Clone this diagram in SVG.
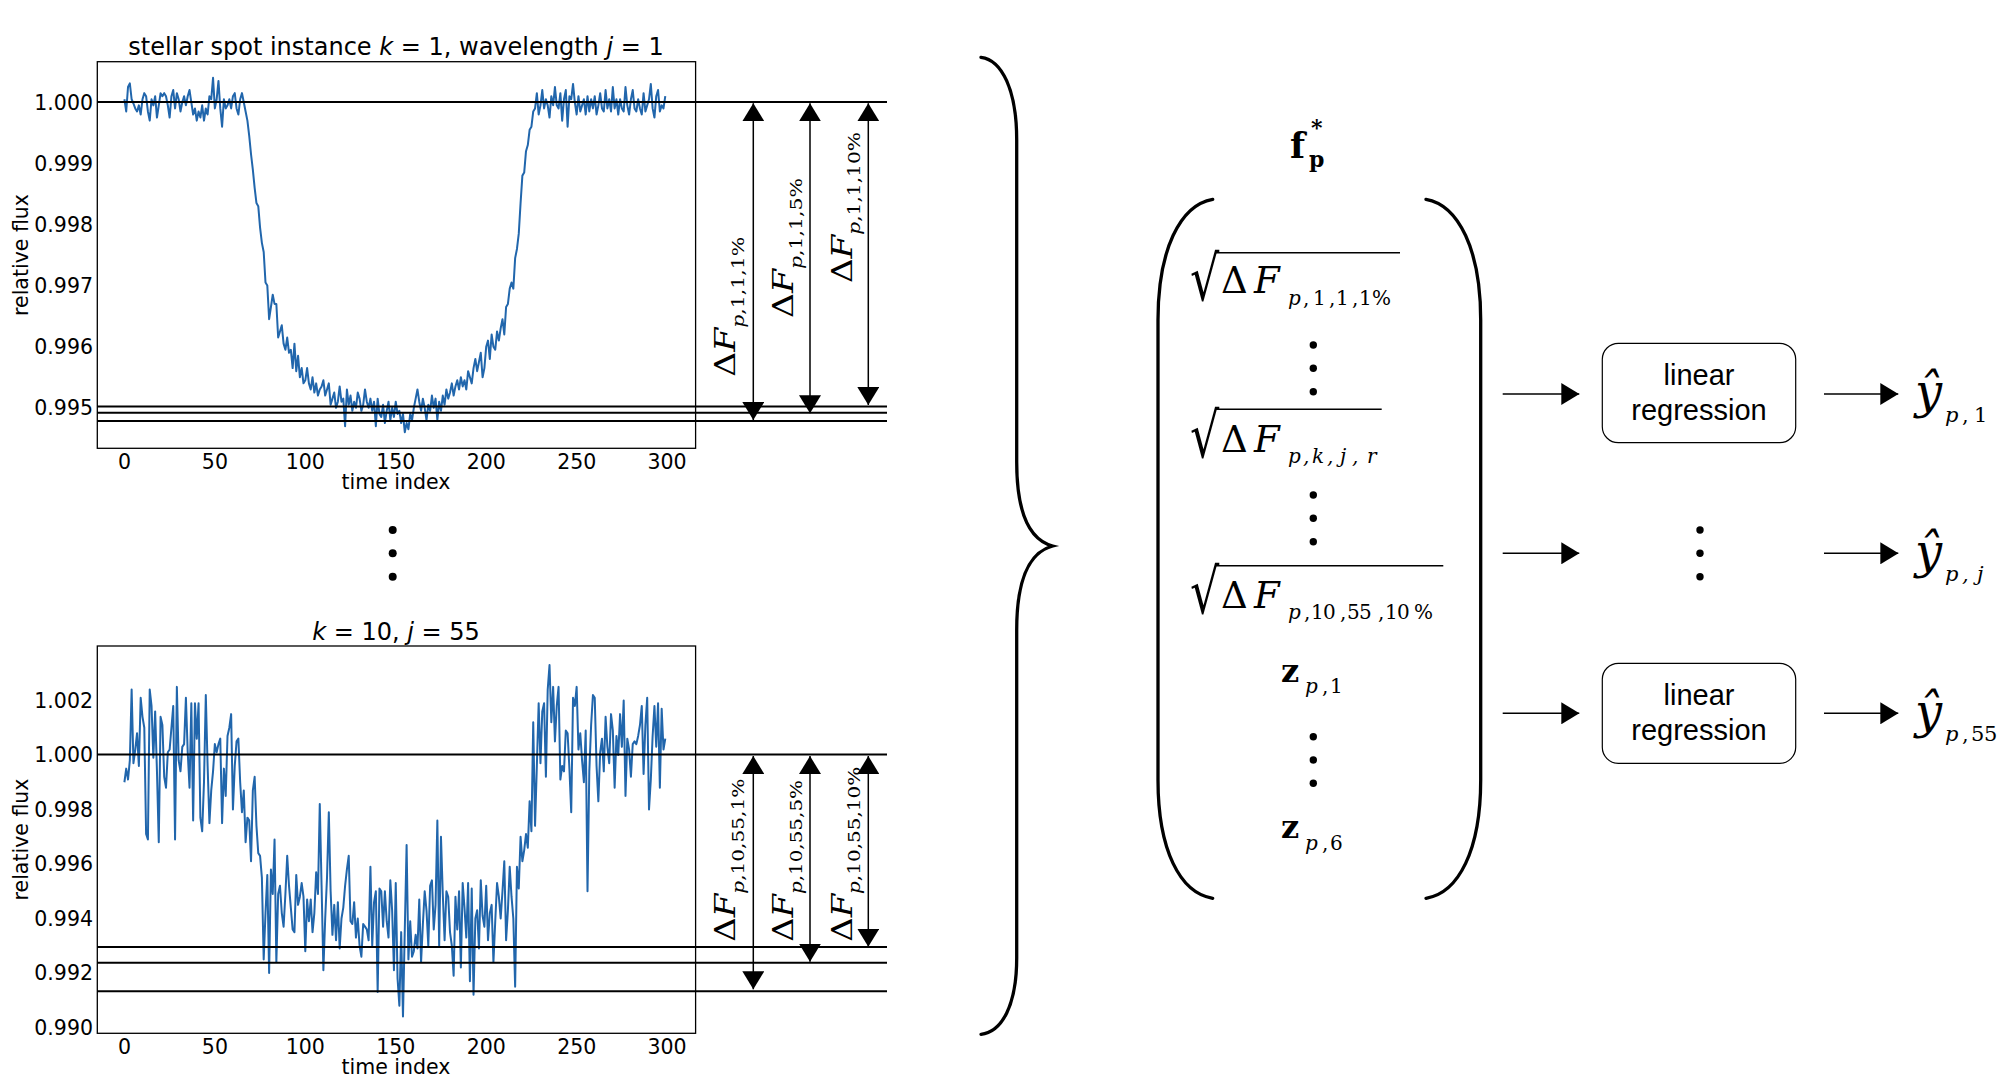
<svg xmlns="http://www.w3.org/2000/svg" width="2000" height="1088" viewBox="0 0 2000 1088">
<style>
.tick{font-family:"DejaVu Sans",sans-serif;font-size:20.5px;fill:#000}
.tl{font-family:"DejaVu Sans",sans-serif;font-size:24px;fill:#000}
.ser{font-family:"DejaVu Serif",serif;fill:#000}
.it{font-style:italic}
.sans{font-family:"Liberation Sans",Arial,sans-serif;font-size:29px;fill:#000}
.frame{fill:none;stroke:#000;stroke-width:1.3}
.hl{stroke:#000;stroke-width:2}
.curve{fill:none;stroke:#2166ac;stroke-width:2;stroke-linejoin:round}
.arr{stroke:#000;stroke-width:1.5;fill:none}
.brk{fill:none;stroke:#000;stroke-width:3.3;stroke-linecap:round}
.box{fill:#fff;stroke:#000;stroke-width:1.2}
.bar{stroke:#000;stroke-width:1.6}
</style>
<defs>
<marker id="ah" markerUnits="userSpaceOnUse" markerWidth="18" markerHeight="22" refX="18" refY="11" orient="auto-start-reverse" viewBox="0 0 18 22">
<path d="M0,0 L18,11 L0,22 Z" fill="#000"/>
</marker>
</defs>
<rect width="2000" height="1088" fill="#fff"/>

<g id="plot-top">
<text class="tl" x="396" y="55" text-anchor="middle">stellar spot instance <tspan class="it">k</tspan> = 1, wavelength <tspan class="it">j</tspan> = 1</text>
<path class="curve" transform="translate(124.4,102.3) scale(1.809,61.1)" vector-effect="non-scaling-stroke" d="M0 -.05L1 .15 2 -.25 3 -.31 4 -.05 5 .02 6 .1 7 .15 8 .05 9 .2 10 -.05 11 -.15 12 -.1 13 .15 14 .3 15 -.05 16 .05 17 -.1 18 .25 19 .05 20 -.15 21 -.1 22 -.15 23 -.1 24 .05 25 .25 26 -.1 27 -.2 28 .1 29 -.15 30 -.05 31 .15 32 0 33 -.1 34 .05 35 -.1 36 -.2 37 0 38 .2 39 .1 40 .3 41 .15 42 .25 43 .05 44 .3 45 .1 46 .2 47 -.1 48 -.05 49 -.4 50 .1 51 -.05 52 -.35 53 .1 54 .4 55 -.05 56 .1 57 .05 58 -.05 59 .1 60 -.1 61 -.15 62 .1 63 .2 64 -.05 65 -.15 66 0 67 .15 68 .3 69 .55 70 .85 71 1.1 72 1.4 73 1.65 74 1.7 75 2.05 76 2.3 77 2.45 78 2.95 79 3 80 3.55 81 3.35 82 3.15 83 3.3 84 3.3 85 3.85 86 3.75 87 3.65 88 3.95 89 4.05 90 3.85 91 4.1 92 4.05 93 4.35 94 3.95 95 4.4 96 4.15 97 4.5 98 4.35 99 4.6 100 4.55 101 4.35 102 4.6 103 4.7 104 4.5 105 4.75 106 4.6 107 4.8 108 4.7 109 4.65 110 4.55 111 4.8 112 4.7 113 4.6 114 4.95 115 4.85 116 4.75 117 5 118 4.9 119 4.65 120 4.9 121 4.85 122 5.3 123 4.7 124 4.95 125 4.8 126 5.05 127 4.9 128 5 129 4.75 130 4.85 131 5.05 132 4.95 133 4.7 134 4.9 135 5 136 4.85 137 5.05 138 4.9 139 5.3 140 4.85 141 5.1 142 5.15 143 4.95 144 5.25 145 5.05 146 4.9 147 5.2 148 5 149 5.15 150 4.9 151 5.1 152 5.05 153 5.25 154 5.1 155 5.4 156 5.25 157 5.35 158 5.1 159 5.2 160 5 161 4.85 162 4.7 163 4.9 164 5.05 165 4.85 166 5 167 5.2 168 4.95 169 5.05 170 4.8 171 5 172 4.85 173 5.2 174 4.9 175 5.05 176 4.8 177 4.95 178 4.7 179 4.85 180 4.75 181 4.6 182 4.8 183 4.65 184 4.55 185 4.7 186 4.5 187 4.65 188 4.55 189 4.7 190 4.4 191 4.5 192 4.6 193 4.35 194 4.2 195 4.4 196 4.25 197 4.1 198 4.5 199 4.35 200 4 201 3.9 202 4.2 203 3.8 204 4 205 4.05 206 3.75 207 3.9 208 3.7 209 3.55 210 3.8 211 3.35 212 3.3 213 3.05 214 2.95 215 3.05 216 2.55 217 2.4 218 2.15 219 1.65 220 1.2 221 1.15 222 .8 223 .7 224 .45 225 .4 226 .15 227 .1 228 -.15 229 .2 230 .05 231 -.2 232 .1 233 -.05 234 .05 235 .25 236 -.1 237 .05 238 -.25 239 .05 240 .1 241 -.15 242 .3 243 -.05 244 -.2 245 .4 246 -.1 247 -.05 248 -.3 249 0 250 .2 251 -.1 252 .15 253 .05 254 -.05 255 .2 256 -.1 257 .15 258 -.05 259 .1 260 -.1 261 .2 262 .05 263 -.15 264 .1 265 .15 266 -.2 267 .1 268 -.05 269 .15 270 -.25 271 .1 272 -.05 273 .2 274 -.05 275 .1 276 .15 277 -.25 278 .05 279 .2 280 -.05 281 -.2 282 .1 283 .15 284 -.05 285 .1 286 .2 287 -.15 288 .15 289 .05 290 -.05 291 -.3 292 .1 293 .25 294 -.1 295 -.2 296 .15 297 .05 298 .1 299 -.1"/>
<rect class="frame" x="97.3" y="61.7" width="598.3" height="386.6"/>
<g class="tick" text-anchor="end">
<text x="93" y="109.6">1.000</text>
<text x="93" y="170.7">0.999</text>
<text x="93" y="231.8">0.998</text>
<text x="93" y="292.9">0.997</text>
<text x="93" y="354">0.996</text>
<text x="93" y="415.1">0.995</text>
</g>
<g class="tick" text-anchor="middle">
<text x="124.4" y="469">0</text>
<text x="214.9" y="469">50</text>
<text x="305.3" y="469">100</text>
<text x="395.8" y="469">150</text>
<text x="486.2" y="469">200</text>
<text x="576.7" y="469">250</text>
<text x="667.1" y="469">300</text>
<text x="396" y="489">time index</text>
<text transform="translate(28,255) rotate(-90)">relative flux</text>
</g>
<line class="hl" x1="97" y1="102" x2="887" y2="102"/>
<line class="hl" x1="97" y1="406.5" x2="887" y2="406.5"/>
<line class="hl" x1="97" y1="412.8" x2="887" y2="412.8"/>
<line class="hl" x1="97" y1="421" x2="887" y2="421"/>
</g>

<g id="plot-top-arrows">
<line class="arr" x1="753.3" y1="103.3" x2="753.3" y2="420" marker-start="url(#ah)" marker-end="url(#ah)"/>
<line class="arr" x1="810" y1="103.3" x2="810" y2="413.3" marker-start="url(#ah)" marker-end="url(#ah)"/>
<line class="arr" x1="868.3" y1="103.3" x2="868.3" y2="405" marker-start="url(#ah)" marker-end="url(#ah)"/>
<text class="ser" font-size="27" transform="translate(735,376.7) rotate(-90)" textLength="140" lengthAdjust="spacingAndGlyphs">Δ<tspan class="it">F</tspan><tspan class="it" font-size="16" dy="8.5">p</tspan><tspan font-size="16">,1,1,1%</tspan></text>
<text class="ser" font-size="27" transform="translate(793.3,318) rotate(-90)" textLength="140" lengthAdjust="spacingAndGlyphs">Δ<tspan class="it">F</tspan><tspan class="it" font-size="16" dy="8.5">p</tspan><tspan font-size="16">,1,1,5%</tspan></text>
<text class="ser" font-size="27" transform="translate(851.7,283) rotate(-90)" textLength="151" lengthAdjust="spacingAndGlyphs">Δ<tspan class="it">F</tspan><tspan class="it" font-size="16" dy="8.5">p</tspan><tspan font-size="16">,1,1,10%</tspan></text>
</g>

<g id="ellipsis-plots">
<circle cx="392.7" cy="530" r="4"/>
<circle cx="392.7" cy="553.3" r="4"/>
<circle cx="392.7" cy="576.7" r="4"/>
</g>

<g id="plot-bottom">
<text class="tl" x="396" y="640" text-anchor="middle"><tspan class="it">k</tspan> = 10, <tspan class="it">j</tspan> = 55</text>
<path class="curve" transform="translate(124.4,755) scale(1.809,27.25)" vector-effect="non-scaling-stroke" d="M0 1L1 .5 2 .9 3 .2 4 -2.4 5 .3 6 -.2 7 -.8 8 .4 9 -2.1 10 -1.4 11 -1 12 2.9 13 3.1 14 -2.4 15 -1.8 16 .1 17 -1.6 18 .6 19 3.2 20 -1.4 21 -1.1 22 .8 23 1.2 24 -.1 25 -.2 26 -1 27 -1.8 28 3.1 29 -2.5 30 .2 31 .6 32 -.3 33 -.4 34 -2.1 35 -.1 36 1.2 37 -1.9 38 2.4 39 -1.9 40 -.6 41 -1.9 42 2.3 43 2.8 44 1 45 -2.2 46 .4 47 2.5 48 1.3 49 .6 50 -.4 51 -.1 52 -.4 53 -.6 54 2.5 55 .5 56 1.5 57 -.7 58 -1 59 -1.5 60 2 61 .4 62 -.5 63 -.6 64 1 65 2.1 66 1.3 67 3.2 68 2.3 69 2.4 70 3.9 71 1.3 72 .8 73 2.6 74 3.6 75 3.7 76 4.5 77 7.5 78 5.8 79 4.4 80 8 81 4.2 82 5.1 83 3.1 84 7.6 85 5.1 86 4.8 87 5.8 88 6.3 89 5.1 90 3.7 91 4.8 92 5.6 93 6.4 94 6.5 95 4.4 96 5.5 97 5.2 98 4.7 99 5.2 100 7.2 101 5.3 102 6.1 103 5.3 104 6.5 105 5.8 106 4.3 107 5.1 108 1.8 109 4.8 110 7.9 111 6 112 4.5 113 2.1 114 5 115 6.6 116 5.5 117 6.8 118 5.4 119 7.1 120 6 121 5.6 122 4.8 123 4.2 124 3.7 125 6.1 126 6.2 127 5.4 128 6.7 129 6 130 7 131 7.4 132 6.2 133 6.3 134 6.4 135 6.8 136 4.1 137 7 138 5.4 139 5 140 8.7 141 4.9 142 5 143 6.3 144 5 145 6.1 146 6.7 147 4.6 148 5.7 149 7.9 150 4.7 151 8.2 152 9.2 153 6.5 154 9.6 155 6.4 156 3.3 157 7.5 158 6.1 159 7.4 160 7.2 161 6.6 162 7.1 163 5.3 164 7.6 165 6.2 166 5 167 5.7 168 7 169 4.8 170 4.6 171 6.4 172 5.5 173 2.4 174 7 175 3 176 5.1 177 6.8 178 5 179 5.2 180 6.5 181 7 182 8.1 183 5.2 184 6.4 185 5 186 7.8 187 4.7 188 5.6 189 6.7 190 4.7 191 8.3 192 4.9 193 8.8 194 6 195 5.7 196 7.1 197 4.6 198 5.9 199 6.3 200 4.8 201 6.8 202 5.8 203 5.5 204 7.6 205 6.1 206 4.7 207 5.2 208 6 209 5 210 3.9 211 6.8 212 5.7 213 4.1 214 5.2 215 6 216 8.5 217 4.1 218 4.9 219 3 220 3.9 221 3.5 222 2.9 223 3.4 224 1.7 225 2.8 226 -1.2 227 2.6 228 .4 229 -1.9 230 .3 231 -1.6 232 -1.9 233 .8 234 -2.4 235 -3.3 236 -1.2 237 -2.5 238 -.5 239 -1.8 240 -2.5 241 .9 242 .4 243 .6 244 -.9 245 -.8 246 .5 247 2.1 248 -2.1 249 -1.8 250 -2.5 251 -.2 252 -.8 253 .2 254 1 255 -.9 256 5 257 .6 258 -1.1 259 -2.2 260 -2.1 261 .4 262 1.7 263 -.1 264 -.6 265 .6 266 -1.4 267 -.3 268 .3 269 -1.5 270 -.9 271 1.2 272 -.7 273 0 274 -1.5 275 -.3 276 -2 277 1.5 278 -.6 279 -.2 280 .8 281 -.4 282 -.5 283 -.4 284 -.7 285 -1.1 286 -1.8 287 .7 288 -1.1 289 -2.1 290 2 291 .9 292 -.7 293 -1.8 294 -.3 295 -1.9 296 1.2 297 -1.7 298 -.2 299 -.6"/>
<rect class="frame" x="97.3" y="646" width="598.3" height="387.3"/>
<g class="tick" text-anchor="end">
<text x="93" y="707.8">1.002</text>
<text x="93" y="762.3">1.000</text>
<text x="93" y="816.8">0.998</text>
<text x="93" y="871.3">0.996</text>
<text x="93" y="925.8">0.994</text>
<text x="93" y="980.3">0.992</text>
<text x="93" y="1034.8">0.990</text>
</g>
<g class="tick" text-anchor="middle">
<text x="124.4" y="1054">0</text>
<text x="214.9" y="1054">50</text>
<text x="305.3" y="1054">100</text>
<text x="395.8" y="1054">150</text>
<text x="486.2" y="1054">200</text>
<text x="576.7" y="1054">250</text>
<text x="667.1" y="1054">300</text>
<text x="396" y="1074">time index</text>
<text transform="translate(28,839.5) rotate(-90)">relative flux</text>
</g>
<line class="hl" x1="97" y1="754.5" x2="887" y2="754.5"/>
<line class="hl" x1="97" y1="947" x2="887" y2="947"/>
<line class="hl" x1="97" y1="962.7" x2="887" y2="962.7"/>
<line class="hl" x1="97" y1="991.3" x2="887" y2="991.3"/>
</g>

<g id="plot-bottom-arrows">
<line class="arr" x1="753.3" y1="756" x2="753.3" y2="989.3" marker-start="url(#ah)" marker-end="url(#ah)"/>
<line class="arr" x1="810" y1="756" x2="810" y2="961.7" marker-start="url(#ah)" marker-end="url(#ah)"/>
<line class="arr" x1="868.3" y1="756" x2="868.3" y2="946.7" marker-start="url(#ah)" marker-end="url(#ah)"/>
<text class="ser" font-size="27" transform="translate(735,941.7) rotate(-90)" textLength="163" lengthAdjust="spacingAndGlyphs">Δ<tspan class="it">F</tspan><tspan class="it" font-size="16" dy="8.5">p</tspan><tspan font-size="16">,10,55,1%</tspan></text>
<text class="ser" font-size="27" transform="translate(793.3,941.7) rotate(-90)" textLength="161.7" lengthAdjust="spacingAndGlyphs">Δ<tspan class="it">F</tspan><tspan class="it" font-size="16" dy="8.5">p</tspan><tspan font-size="16">,10,55,5%</tspan></text>
<text class="ser" font-size="27" transform="translate(851.7,941.7) rotate(-90)" textLength="175" lengthAdjust="spacingAndGlyphs">Δ<tspan class="it">F</tspan><tspan class="it" font-size="16" dy="8.5">p</tspan><tspan font-size="16">,10,55,10%</tspan></text>
</g>

<g id="brace">
<path class="brk" d="M981,57.3 C1002,60 1016.7,90 1016.7,140 L1016.7,462 C1016.7,515 1030,540 1052.7,546 C1030,552 1016.7,577 1016.7,630 L1016.7,958 C1016.7,1005 1002,1032 981,1034.3"/>
</g>

<g id="feature-vector">
<text class="ser" x="1290" y="158.3" font-size="35" font-weight="bold">f</text>
<text class="ser" x="1309" y="166.7" font-size="22" font-weight="bold">p</text>
<text class="ser" x="1311" y="135" font-size="22" font-weight="bold">*</text>
<path class="brk" stroke-width="3" d="M1212.7,199.3 C1180,205 1158,250 1158,320 L1158,780 C1158,850 1180,893 1212.7,898.3"/>
<path class="brk" stroke-width="3" d="M1426,199.3 C1458.7,205 1480.7,250 1480.7,320 L1480.7,780 C1480.7,850 1458.7,893 1426,898.3"/>

<text class="ser" font-size="46" transform="translate(1190,300) scale(1,1.35)">√</text>
<line class="bar" x1="1215" y1="252.7" x2="1400" y2="252.7"/>
<text class="ser" font-size="37" y="293.3"><tspan x="1221">Δ</tspan><tspan class="it" x="1254">F</tspan></text>
<text class="ser" font-size="20" y="305"><tspan class="it" x="1288">p</tspan><tspan x="1303 1313 1329 1336 1352 1359 1372">,1,1,1%</tspan></text>

<circle cx="1313.3" cy="345" r="3.7"/>
<circle cx="1313.3" cy="368.3" r="3.7"/>
<circle cx="1313.3" cy="391.7" r="3.7"/>

<text class="ser" font-size="46" transform="translate(1190,456.5) scale(1,1.35)">√</text>
<line class="bar" x1="1215" y1="409.3" x2="1381.7" y2="409.3"/>
<text class="ser" font-size="37" y="451.7"><tspan x="1221">Δ</tspan><tspan class="it" x="1254">F</tspan></text>
<text class="ser it" font-size="20" y="463.4"><tspan x="1288">p</tspan><tspan x="1303">,</tspan><tspan x="1312">k</tspan><tspan x="1327">,</tspan><tspan x="1340">j</tspan><tspan x="1352">,</tspan><tspan x="1367">r</tspan></text>

<circle cx="1313.3" cy="495" r="3.7"/>
<circle cx="1313.3" cy="518.3" r="3.7"/>
<circle cx="1313.3" cy="541.7" r="3.7"/>

<text class="ser" font-size="46" transform="translate(1190,612.7) scale(1,1.35)">√</text>
<line class="bar" x1="1215" y1="565.7" x2="1443.3" y2="565.7"/>
<text class="ser" font-size="37" y="608.3"><tspan x="1221">Δ</tspan><tspan class="it" x="1254">F</tspan></text>
<text class="ser" font-size="20" y="619"><tspan class="it" x="1288">p</tspan><tspan x="1304 1311 1323 1340 1347 1359 1378 1385 1397 1414">,10,55,10%</tspan></text>

<text class="ser" x="1281" y="681.7" font-size="32" font-weight="bold">z</text>
<text class="ser" font-size="20" y="693.3"><tspan class="it" x="1305">p</tspan><tspan x="1322 1330">,1</tspan></text>

<circle cx="1313.3" cy="736.7" r="3.7"/>
<circle cx="1313.3" cy="760" r="3.7"/>
<circle cx="1313.3" cy="783.3" r="3.7"/>

<text class="ser" x="1281" y="838.3" font-size="32" font-weight="bold">z</text>
<text class="ser" font-size="20" y="850"><tspan class="it" x="1305">p</tspan><tspan x="1322 1330">,6</tspan></text>
</g>

<g id="connectors">
<line class="arr" x1="1502.7" y1="394" x2="1579.3" y2="394" marker-end="url(#ah)"/>
<line class="arr" x1="1502.7" y1="553.3" x2="1579.3" y2="553.3" marker-end="url(#ah)"/>
<line class="arr" x1="1502.7" y1="713.3" x2="1579.3" y2="713.3" marker-end="url(#ah)"/>
<line class="arr" x1="1824" y1="394" x2="1898.3" y2="394" marker-end="url(#ah)"/>
<line class="arr" x1="1824" y1="553.3" x2="1898.3" y2="553.3" marker-end="url(#ah)"/>
<line class="arr" x1="1824" y1="713.3" x2="1898.3" y2="713.3" marker-end="url(#ah)"/>
</g>

<g id="regression-1">
<rect class="box" x="1602.3" y="343.3" width="193.4" height="99.4" rx="16"/>
<text class="sans" x="1699" y="385" text-anchor="middle">linear</text>
<text class="sans" x="1699" y="420" text-anchor="middle">regression</text>
</g>
<g id="regression-dots">
<circle cx="1700" cy="530" r="3.7"/>
<circle cx="1700" cy="553.3" r="3.7"/>
<circle cx="1700" cy="576.7" r="3.7"/>
</g>
<g id="regression-55">
<rect class="box" x="1602.3" y="663.3" width="193.4" height="100" rx="16"/>
<text class="sans" x="1699" y="705" text-anchor="middle">linear</text>
<text class="sans" x="1699" y="740" text-anchor="middle">regression</text>
</g>

<g id="output-1">
<text class="ser it" x="1915" y="408.3" font-size="48">ŷ</text>
<text class="ser" font-size="21" y="421.7"><tspan class="it" x="1945">p</tspan><tspan x="1962 1974">,1</tspan></text>
</g>
<g id="output-j">
<text class="ser it" x="1915" y="567.6" font-size="48">ŷ</text>
<text class="ser it" font-size="21" y="581"><tspan x="1945">p</tspan><tspan x="1962">,</tspan><tspan x="1977">j</tspan></text>
</g>
<g id="output-55">
<text class="ser it" x="1915" y="727.6" font-size="48">ŷ</text>
<text class="ser" font-size="21" y="741"><tspan class="it" x="1945">p</tspan><tspan x="1962 1971 1984">,55</tspan></text>
</g>
</svg>
